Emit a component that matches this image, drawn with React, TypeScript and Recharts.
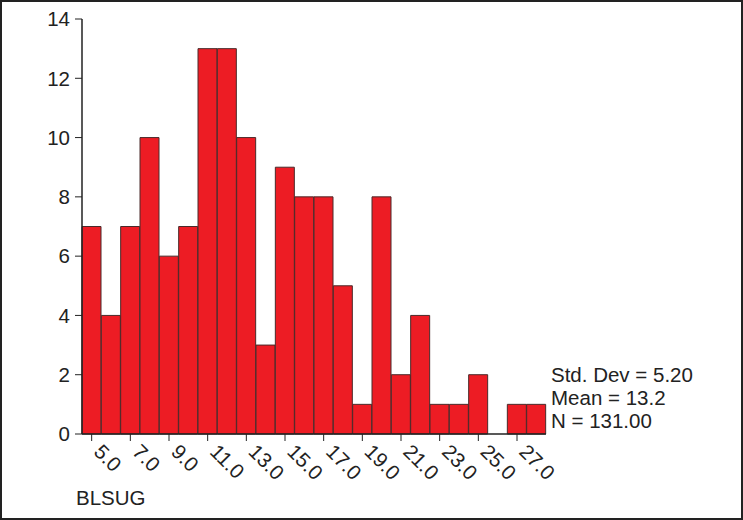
import { BarChart, Bar, XAxis, YAxis } from 'recharts';

// histogram bins (midpoints) and counts
const bins = ['5.0', '6.0', '7.0', '8.0', '9.0', '10.0', '11.0', '12.0', '13.0', '14.0', '15.0', '16.0',
  '17.0', '18.0', '19.0', '20.0', '21.0', '22.0', '23.0', '24.0', '25.0', '26.0', '27.0', '28.0'];
const counts = [7, 4, 7, 10, 6, 7, 13, 13, 10, 3, 9, 8, 8, 5, 1, 8, 2, 4, 1, 1, 2, 0, 1, 1];
const yTicks = [0, 2, 4, 6, 8, 10, 12, 14];
const stats = ['Std. Dev = 5.20', 'Mean = 13.2', 'N = 131.00'];
const xTitle = 'BLSUG';

const data = bins.map((b, i) => ({ bin: b, count: counts[i] }));

const INK = '#222';
const FS = 20.5;

function XTick({ x, y, payload }: any) {
  return (
    <text transform={`translate(${x + 1},${y + 10}) rotate(45)`} fontSize={FS} fill={INK} textAnchor="start">
      {payload.value}
    </text>
  );
}

export default function App() {
  return (
    <div style={{ position: 'absolute', left: 0, top: 0, width: 743, height: 520, border: `2px solid ${INK}`, boxSizing: 'border-box', background: '#fff', fontFamily: "Arial, 'Liberation Sans', sans-serif" }}>
      <div style={{ position: 'absolute', left: -2, top: -2 }}>
        <BarChart width={743} height={520} data={data} barCategoryGap={0} margin={{ top: 19, right: 197, bottom: 0, left: 0 }}>
          <XAxis dataKey="bin" height={86} interval={1} tickSize={7} tickLine={{ stroke: INK }}
            axisLine={{ stroke: INK, strokeWidth: 1.5 }} tick={<XTick />} />
          <XAxis xAxisId="top" dataKey="bin" orientation="top" height={0} tick={false} tickLine={false}
            axisLine={{ stroke: INK, strokeWidth: 1.5 }} />
          <YAxis domain={[0, 14]} ticks={yTicks} width={82} tickSize={7} tickMargin={5} interval={0}
            tick={{ fontSize: FS, fill: INK }} tickLine={{ stroke: INK }} axisLine={{ stroke: INK, strokeWidth: 1.5 }} />
          <YAxis yAxisId="right" orientation="right" domain={[0, 14]} width={0} tick={false} tickLine={false}
            axisLine={{ stroke: INK, strokeWidth: 1.5 }} />
          <Bar dataKey="count" fill="#ED1C24" stroke="#4a2a2a" strokeWidth={1} isAnimationActive={false} />
        </BarChart>
      </div>
      <div style={{ position: 'absolute', left: 549, top: 361, fontSize: FS, lineHeight: '23px', color: INK }}>
        {stats.map((s) => (<div key={s}>{s}</div>))}
      </div>
      <div style={{ position: 'absolute', left: 74, top: 484, fontSize: FS, lineHeight: '23px', color: INK }}>{xTitle}</div>
    </div>
  );
}
